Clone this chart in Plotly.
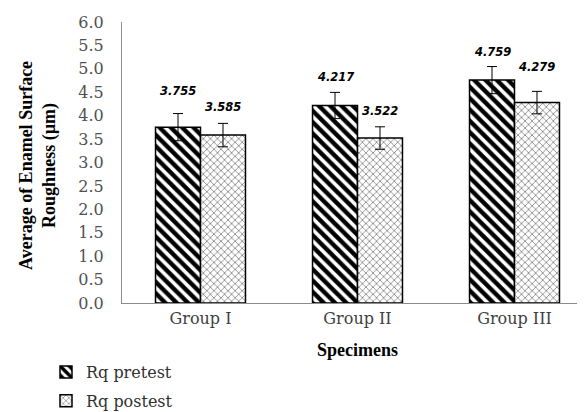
import plotly.graph_objects as go

categories = ["Group I", "Group II", "Group III"]
pretest = [3.755, 4.217, 4.759]
postest = [3.585, 3.522, 4.279]
pretest_err = [0.29, 0.28, 0.29]
postest_err = [0.25, 0.24, 0.24]
pretest_labels = ["3.755", "4.217", "4.759"]
postest_labels = ["3.585", "3.522", "4.279"]
y_ticks = [0, 0.5, 1, 1.5, 2, 2.5, 3, 3.5, 4, 4.5, 5, 5.5, 6]

# layout constants
W, H = 585, 412
ML, MR, MT, MB = 114, 0, 14, 117
BARGAP = 0.427
plot_w = W - ML - MR
plot_h = H - MT - MB
half_bar = plot_w / len(categories) * (1 - BARGAP) / 4


def px_x(px):
    return (px - ML) / plot_w


def px_y(py):
    return (H - MB - py) / plot_h


pre_label_shift = [23, 15, 15]
post_label_shift = [16, 16, 24]

SERIF = "DejaVu Serif"
TITLE_SERIF = "Liberation Serif"
TXT = "#404040"

fig = go.Figure()
fig.add_trace(go.Bar(
    name="Rq pretest", x=categories, y=pretest,
    marker=dict(color="white", line=dict(color="black", width=1.5),
                pattern=dict(shape="\\", size=8, solidity=0.55,
                             fgcolor="black", fgopacity=1, bgcolor="white")),
    error_y=dict(type="data", array=pretest_err, color="black",
                 thickness=1, width=5),
    legendgroup="a",
))
fig.add_trace(go.Bar(
    name="Rq postest", x=categories, y=postest,
    marker=dict(color="white", line=dict(color="black", width=1.5),
                pattern=dict(shape="x", size=5, solidity=0.25,
                             fgcolor="#6a6a6a", fgopacity=1, bgcolor="white")),
    error_y=dict(type="data", array=postest_err, color="black",
                 thickness=1, width=5),
    legendgroup="b",
))

label_font = dict(family="DejaVu Sans", size=11.5, color="black",
                  weight="bold", style="italic")
annotations = []
for i, c in enumerate(categories):
    annotations.append(dict(
        x=c, y=pretest[i] + pretest_err[i], xref="x", yref="y",
        text=pretest_labels[i], showarrow=False, xshift=-half_bar,
        yshift=pre_label_shift[i], yanchor="middle", font=label_font))
    annotations.append(dict(
        x=c, y=postest[i] + postest_err[i], xref="x", yref="y",
        text=postest_labels[i], showarrow=False, xshift=half_bar,
        yshift=post_label_shift[i], yanchor="middle", font=label_font))

annotations.append(dict(
    x=0.5, y=px_y(342), xref="paper", yref="paper", yanchor="middle",
    text="<b>Specimens</b>", showarrow=False,
    font=dict(family=TITLE_SERIF, size=18, color="black")))
annotations.append(dict(
    x=px_x(30), y=px_y(158), xref="paper", yref="paper",
    xanchor="center", yanchor="middle", textangle=-90,
    text="<b>Average of Enamel Surface<br>Roughness (µm)</b>",
    showarrow=False, font=dict(family=TITLE_SERIF, size=18, color="black")))

fig.update_layout(
    width=W, height=H,
    margin=dict(l=ML, r=MR, t=MT, b=MB, autoexpand=False),
    paper_bgcolor="white", plot_bgcolor="white",
    barmode="group", bargap=BARGAP, bargroupgap=0,
    font=dict(family=SERIF, size=16, color=TXT),
    showlegend=True,
    legend=dict(xref="container", yref="container", x=38 / W, y=1 - 347 / H,
                xanchor="left", yanchor="top", orientation="v",
                tracegroupgap=5, font=dict(family=SERIF, size=16, color="#303030"),
                bgcolor="rgba(0,0,0,0)"),
    annotations=annotations,
)
fig.update_xaxes(showline=True, linecolor="#8c8c8c", linewidth=1,
                 showgrid=False, ticks="", ticklabelstandoff=1,
                 tickfont=dict(family=SERIF, size=16, color=TXT))
fig.update_yaxes(range=[0, 6], tickvals=y_ticks, tickformat=".1f",
                 showline=True, linecolor="#8c8c8c", linewidth=1,
                 showgrid=False, zeroline=False, ticks="",
                 ticklabelstandoff=14,
                 tickfont=dict(family=SERIF, size=16, color="#505050"))

fig.write_html("out.html")
